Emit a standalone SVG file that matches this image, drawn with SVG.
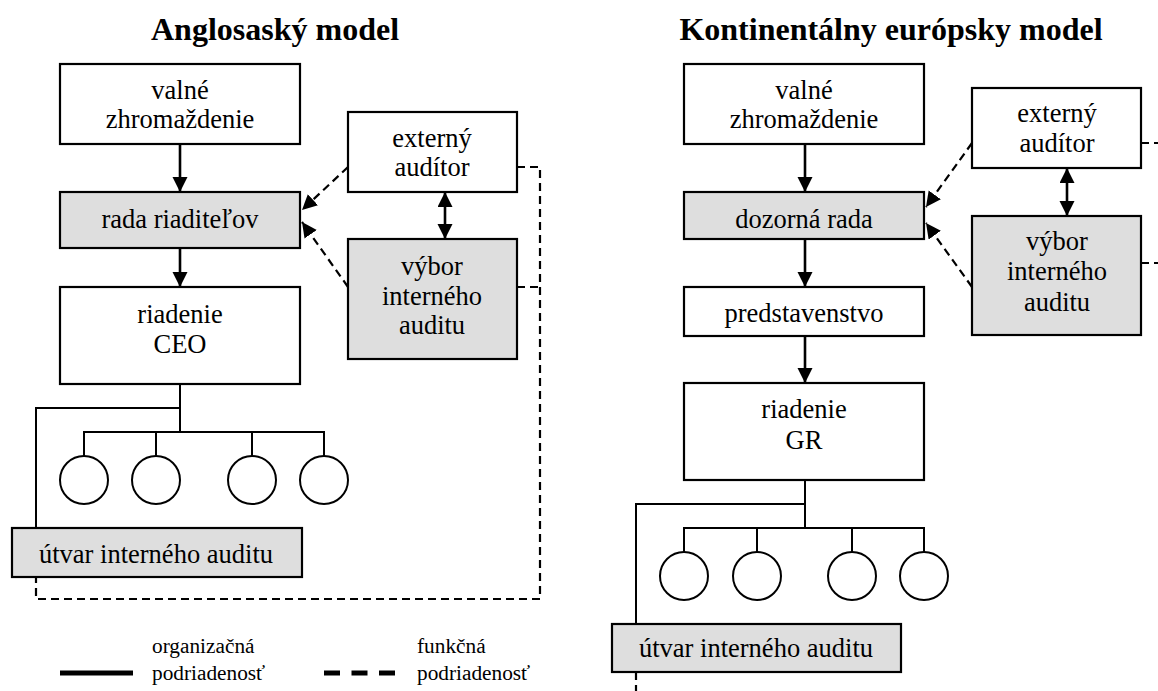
<svg xmlns="http://www.w3.org/2000/svg" width="1158" height="691" viewBox="0 0 1158 691">
<defs>
<style>
text{font-family:'Liberation Serif','DejaVu Serif',serif;fill:#000;text-anchor:middle}
.t{font-size:26.5px}
.h{font-size:32px;font-weight:bold}
.lg{font-size:21.3px;text-anchor:start}
.box{fill:#fff;stroke:#000;stroke-width:2.2}
.g{fill:#dedede;stroke:#000;stroke-width:2.2}
.arr{fill:none;stroke:#000;stroke-width:2.6}
.tree{fill:none;stroke:#000;stroke-width:2}
.dash{fill:none;stroke:#000;stroke-width:2.2;stroke-dasharray:8 5}
.circ{fill:#fff;stroke:#000;stroke-width:2}
</style>
<marker id="ah" markerUnits="userSpaceOnUse" markerWidth="17" markerHeight="17" refX="15" refY="7.5" orient="auto-start-reverse" viewBox="0 0 17 17">
<path d="M0,0 L15,7.5 L0,15 z" fill="#000"/>
</marker>
</defs>
<rect width="1158" height="691" fill="#fff"/>

<text class="h" x="275" y="40" font-family="Liberation Serif, serif">Anglosaský model</text>
<text class="h" x="891" y="40" font-family="Liberation Serif, serif">Kontinentálny európsky model</text>

<g id="connectors">
<line class="arr" x1="180" y1="144" x2="180" y2="192" marker-end="url(#ah)"/>
<line class="arr" x1="180" y1="248" x2="180" y2="287" marker-end="url(#ah)"/>
<line class="arr" x1="445" y1="192" x2="445" y2="239" marker-start="url(#ah)" marker-end="url(#ah)"/>
<line class="dash" x1="348" y1="167" x2="302" y2="210" marker-end="url(#ah)"/>
<line class="dash" x1="348" y1="287" x2="302" y2="222" marker-end="url(#ah)"/>
<polyline class="dash" points="517,167 540,167 540,599 36,599 36,577"/>
<line class="dash" x1="517" y1="287" x2="540" y2="287"/>
<polyline class="tree" points="180,384 180,432"/>
<polyline class="tree" points="180,408 36,408 36,528"/>
<polyline class="tree" points="84,456 84,432 324,432 324,456"/>
<line class="tree" x1="156" y1="432" x2="156" y2="456"/>
<line class="tree" x1="252" y1="432" x2="252" y2="456"/>
<line class="arr" x1="805" y1="144" x2="805" y2="192" marker-end="url(#ah)"/>
<line class="arr" x1="805" y1="239" x2="805" y2="287" marker-end="url(#ah)"/>
<line class="arr" x1="805" y1="336" x2="805" y2="383" marker-end="url(#ah)"/>
<line class="arr" x1="1067" y1="168" x2="1067" y2="216" marker-start="url(#ah)" marker-end="url(#ah)"/>
<line class="dash" x1="972" y1="143" x2="926" y2="207" marker-end="url(#ah)"/>
<line class="dash" x1="972" y1="287" x2="926" y2="223" marker-end="url(#ah)"/>
<line class="dash" x1="1141" y1="143" x2="1158" y2="143"/>
<line class="dash" x1="1141" y1="263" x2="1158" y2="263"/>
<line class="dash" x1="636" y1="672" x2="636" y2="691"/>
<polyline class="tree" points="805,480 805,528"/>
<polyline class="tree" points="805,504 636,504 636,624"/>
<polyline class="tree" points="684,552 684,528 924,528 924,552"/>
<line class="tree" x1="757" y1="528" x2="757" y2="552"/>
<line class="tree" x1="852" y1="528" x2="852" y2="552"/>
</g>

<g id="l-valne"><rect class="box" x="60" y="64" width="240" height="80"/><text class="t" x="180" y="99">valné</text><text class="t" x="180" y="128">zhromaždenie</text></g>
<g id="l-rada"><rect class="g" x="60" y="192" width="240" height="56"/><text class="t" x="180" y="228">rada riaditeľov</text></g>
<g id="l-riadenie"><rect class="box" x="60" y="287" width="240" height="97"/><text class="t" x="180" y="323">riadenie</text><text class="t" x="180" y="353">CEO</text></g>
<g id="l-externy"><rect class="box" x="348" y="112" width="169" height="80"/><text class="t" x="432" y="147">externý</text><text class="t" x="432" y="176">audítor</text></g>
<g id="l-vybor"><rect class="g" x="348" y="239" width="169" height="120"/><text class="t" x="432" y="275">výbor</text><text class="t" x="432" y="305">interného</text><text class="t" x="432" y="334">auditu</text></g>
<g id="l-c1"><circle class="circ" cx="84" cy="480" r="24"/></g>
<g id="l-c2"><circle class="circ" cx="156" cy="480" r="24"/></g>
<g id="l-c3"><circle class="circ" cx="252" cy="480" r="24"/></g>
<g id="l-c4"><circle class="circ" cx="324" cy="480" r="24"/></g>
<g id="l-utvar"><rect class="g" x="12" y="528" width="290" height="49"/><text class="t" x="156" y="563">útvar interného auditu</text></g>

<g id="r-valne"><rect class="box" x="684" y="64" width="240" height="80"/><text class="t" x="804" y="99">valné</text><text class="t" x="804" y="128">zhromaždenie</text></g>
<g id="r-dozorna"><rect class="g" x="684" y="192" width="240" height="47"/><text class="t" x="804" y="228">dozorná rada</text></g>
<g id="r-predst"><rect class="box" x="684" y="287" width="240" height="49"/><text class="t" x="804" y="322">predstavenstvo</text></g>
<g id="r-riadenie"><rect class="box" x="684" y="383" width="240" height="97"/><text class="t" x="804" y="418">riadenie</text><text class="t" x="804" y="449">GR</text></g>
<g id="r-externy"><rect class="box" x="972" y="88" width="169" height="80"/><text class="t" x="1057" y="122">externý</text><text class="t" x="1057" y="152">audítor</text></g>
<g id="r-vybor"><rect class="g" x="972" y="216" width="169" height="119"/><text class="t" x="1057" y="250">výbor</text><text class="t" x="1057" y="280">interného</text><text class="t" x="1057" y="311">auditu</text></g>
<g id="r-c1"><circle class="circ" cx="684" cy="576" r="24"/></g>
<g id="r-c2"><circle class="circ" cx="757" cy="576" r="24"/></g>
<g id="r-c3"><circle class="circ" cx="852" cy="576" r="24"/></g>
<g id="r-c4"><circle class="circ" cx="924" cy="576" r="24"/></g>
<g id="r-utvar"><rect class="g" x="612" y="624" width="289" height="48"/><text class="t" x="756" y="657">útvar interného auditu</text></g>

<g id="legend">
<line x1="60" y1="673" x2="133" y2="673" stroke="#000" stroke-width="5"/>
<text class="lg" x="152" y="653">organizačná</text>
<text class="lg" x="152" y="680">podriadenosť</text>
<line x1="324" y1="673" x2="395" y2="673" stroke="#000" stroke-width="5" stroke-dasharray="16 11.5"/>
<text class="lg" x="417" y="653">funkčná</text>
<text class="lg" x="417" y="680">podriadenosť</text>
</g>
</svg>
